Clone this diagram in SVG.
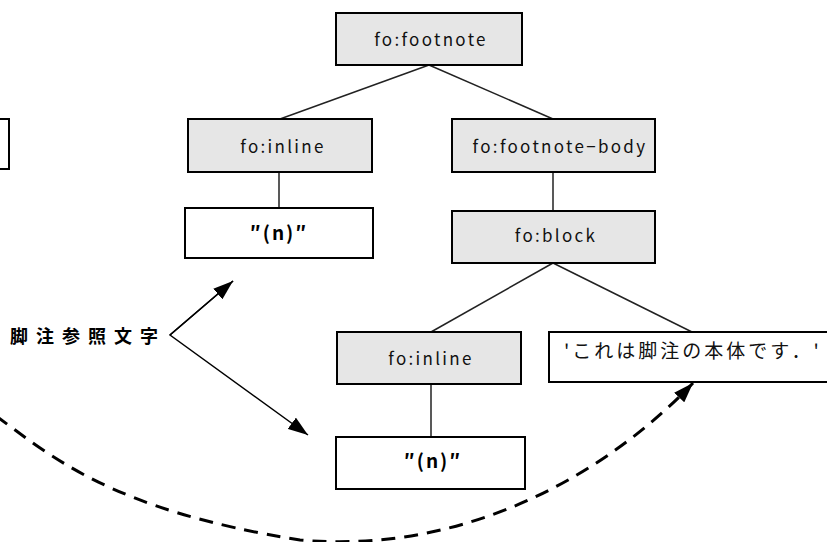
<svg xmlns="http://www.w3.org/2000/svg" width="827" height="542" viewBox="0 0 827 542">
<style>
.g{fill:#e6e6e6;stroke:#000;stroke-width:2}
.w{fill:#fff;stroke:#000;stroke-width:2}
.t{font-family:"Noto Sans CJK JP","DejaVu Sans",sans-serif;font-size:17px;letter-spacing:2.3px;fill:#111;text-anchor:middle}
.b{font-family:"Noto Sans CJK JP","DejaVu Sans",sans-serif;font-size:19px;letter-spacing:2px;font-weight:bold;fill:#000;text-anchor:middle}
.l{stroke:#222;stroke-width:1.5;fill:none}
.a{stroke:#000;stroke-width:1.5;fill:none}
</style>
<defs>
<marker id="ah" viewBox="0 0 20 14" refX="20" refY="7" markerWidth="20" markerHeight="14" markerUnits="userSpaceOnUse" orient="auto">
<path d="M0,0 L20,7 L0,14 z" fill="#000"/>
</marker>
</defs>
<g id="connectors">
<line class="l" x1="429" y1="65" x2="280" y2="119"/>
<line class="l" x1="429" y1="65" x2="553" y2="119"/>
<line class="l" x1="279" y1="172" x2="279" y2="208"/>
<line class="l" x1="553" y1="172" x2="553" y2="211"/>
<line class="l" x1="553" y1="263" x2="431" y2="332"/>
<line class="l" x1="553" y1="263" x2="692" y2="332"/>
<line class="l" x1="431" y1="384" x2="431" y2="437"/>
<polyline class="a" points="233,281 170,335 308,435" marker-end="url(#ah)"/>
<line class="a" x1="170" y1="335" x2="233" y2="281" marker-end="url(#ah)"/>
<path d="M-4,416 C50,455 110,510 300,540 C470,555 610,470 693,383" fill="none" stroke="#000" stroke-width="3" stroke-dasharray="14,9" marker-end="url(#ah)"/>
</g>
<g id="left-partial"><rect class="w" x="-200" y="119" width="209" height="50"/></g>
<g id="footnote"><rect class="g" x="336" y="13" width="186" height="52"/><text class="t" x="431" y="46">fo:footnote</text></g>
<g id="inline1"><rect class="g" x="188" y="119" width="184" height="53"/><text class="t" x="283" y="153">fo:inline</text></g>
<g id="n1"><rect class="w" x="185" y="208" width="188" height="50"/><text class="b" x="279" y="240">″(n)″</text></g>
<g id="footnote-body"><rect class="g" x="452" y="119" width="203" height="53"/><text class="t" x="560" y="153">fo:footnote−body</text></g>
<g id="block"><rect class="g" x="452" y="211" width="203" height="52"/><text class="t" x="556" y="242">fo:block</text></g>
<g id="inline2"><rect class="g" x="337" y="332" width="184" height="52"/><text class="t" x="431" y="365">fo:inline</text></g>
<g id="n2"><rect class="w" x="336" y="437" width="189" height="52"/><text class="b" x="433" y="468">″(n)″</text></g>
<g id="body-text"><rect class="w" x="549" y="332" width="300" height="50"/><text x="564" y="358" style="font-family:'Noto Sans CJK JP',sans-serif;font-size:19px;fill:#111;letter-spacing:3px">'これは脚注の本体です．'</text></g>
<g id="label"><text x="10" y="343" style="font-family:'Noto Sans CJK JP',sans-serif;font-size:18px;font-weight:bold;fill:#000;letter-spacing:8px">脚注参照文字</text></g>
</svg>
